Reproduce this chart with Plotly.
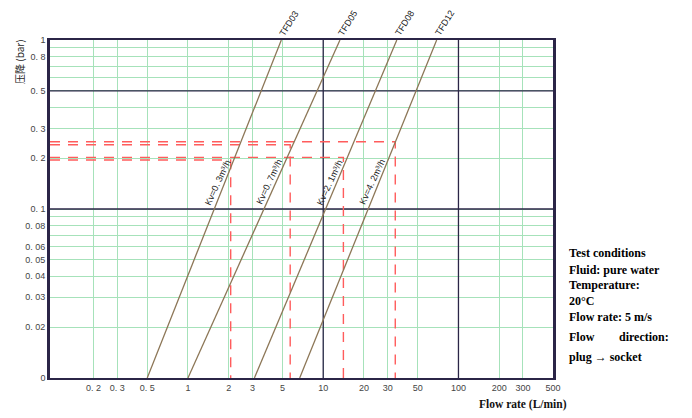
import numpy as np
import plotly.graph_objects as go

# ---------------- data ----------------
flow_ticks = [0.2, 0.3, 0.5, 1, 2, 3, 5, 10, 20, 30, 50, 100, 200, 300, 500]
flow_ticktext = ["0. 2", "0. 3", "0. 5", "1", "2", "3", "5", "10", "20", "30", "50", "100", "200", "300", "500"]
dp_ticks = [0.01, 0.02, 0.03, 0.04, 0.05, 0.06, 0.07, 0.08, 0.09, 0.1,
            0.2, 0.3, 0.4, 0.5, 0.6, 0.7, 0.8, 0.9, 1]
dp_ticktext = ["0", "0. 02", "0. 03", "0. 04", "0. 05", "0. 06", "", "0. 08", "", "0. 1",
               "0. 2", "0. 3", "", "0. 5", "", "", "0. 8", "", "1"]
dark_dp_lines = [0.1, 0.5]
dark_flow_lines = [10, 100]

series = ["TFD03", "TFD05", "TFD08", "TFD12"]
kv_text = ["Kv=0. 3m³/h", "Kv=0. 7m³/h", "Kv=2. 1m³/h", "Kv=4. 2m³/h"]
dp_min = 0.01
dp_max = 1.0
flow_at_dp_min = [0.5, 1.0, 3.1, 6.7]     # L/min at 0.01 bar
flow_at_dp_max = [4.9, 13.3, 35.0, 69.0]  # L/min at 1 bar
marker_dp = [0.195, 0.24, 0.202, 0.25]    # red guide levels (bar)
marker_flow = [2.07, 5.7, 14.1, 34.1]     # red guide flows (L/min)

# ---------------- layout constants ----------------
X_RANGE = [-1.02, np.log10(500)]
Y_RANGE = [-2.0005, 0.0005]
GREEN = "#a6e2ba"
NAVY = "#2b2547"
BROWN = "#8c7656"
RED = "#ff5c5c"
label_dp = 0.1445

fig = go.Figure()

xmin = 10 ** X_RANGE[0]
xmax = 10 ** X_RANGE[1]
for v in dark_dp_lines:
    fig.add_trace(go.Scatter(x=[xmin, xmax], y=[v, v], mode="lines",
                             line=dict(color=NAVY, width=1.3), hoverinfo="skip", showlegend=False))
for v in dark_flow_lines:
    fig.add_trace(go.Scatter(x=[v, v], y=[dp_min, dp_max], mode="lines",
                             line=dict(color=NAVY, width=1.3), hoverinfo="skip", showlegend=False))

# red guide lines
for q, p in zip(marker_flow, marker_dp):
    fig.add_trace(go.Scatter(x=[xmin, q, q], y=[p, p, dp_min], mode="lines",
                             line=dict(color=RED, width=1.4, dash="10px,8px"),
                             hoverinfo="skip", showlegend=False))

# characteristic lines
for name, q0, q1 in zip(series, flow_at_dp_min, flow_at_dp_max):
    fig.add_trace(go.Scatter(x=[q0, q1], y=[dp_min, dp_max], mode="lines", name=name,
                             line=dict(color=BROWN, width=1.3), showlegend=False))

annotations = []
for name, q0, q1, kt in zip(series, flow_at_dp_min, flow_at_dp_max, kv_text):
    annotations.append(dict(x=np.log10(q1), y=1, xref="x", yref="paper", text=name,
                            showarrow=False, textangle=-58, xanchor="center", yanchor="middle",
                            xshift=8, yshift=17,
                            font=dict(family="Liberation Sans", size=9, color="#222")))
    t = (np.log10(label_dp) - np.log10(dp_min)) / (np.log10(dp_max) - np.log10(dp_min))
    lx = np.log10(q0) + t * (np.log10(q1) - np.log10(q0))
    annotations.append(dict(x=lx, y=np.log10(label_dp), xref="x", yref="y", text=kt,
                            showarrow=False, textangle=-65, xanchor="center", yanchor="middle",
                            xshift=-7,
                            font=dict(family="Liberation Sans", size=9, color="#222")))

# y title
annotations.append(dict(x=0, y=0.935, xref="paper", yref="paper", text="压降 (bar)",
                        showarrow=False, textangle=-90, xshift=-30,
                        xanchor="center", yanchor="middle",
                        font=dict(family="Noto Sans CJK SC", size=10, color="#222")))
# x title
annotations.append(dict(x=(523 - 50) / 503, y=(378 - 404) / 338, xref="paper", yref="paper",
                        text="<b>Flow rate (L/min)</b>", showarrow=False,
                        xanchor="center", yanchor="middle",
                        font=dict(family="Liberation Serif", size=11.5, color="#111")))

# test conditions
cond_lines = ["Test conditions", "Fluid: pure water", "Temperature:", "20°C", "Flow rate: 5 m/s"]
cond_y = [253, 269.5, 285, 300.5, 316.5]
for txt, py in zip(cond_lines, cond_y):
    annotations.append(dict(x=(567 - 50) / 503, y=(378 - py) / 338, xref="paper", yref="paper",
                            text="<b>" + txt + "</b>", showarrow=False, xanchor="left", yanchor="middle",
                            font=dict(family="Liberation Serif", size=12, color="#000")))
annotations.append(dict(x=(567 - 50) / 503, y=(378 - 336.5) / 338, xref="paper", yref="paper",
                        text="<b>Flow</b>", showarrow=False, xanchor="left", yanchor="middle",
                        font=dict(family="Liberation Serif", size=12, color="#000")))
annotations.append(dict(x=(671 - 50) / 503, y=(378 - 336.5) / 338, xref="paper", yref="paper",
                        text="<b>direction:</b>", showarrow=False, xanchor="right", yanchor="middle",
                        font=dict(family="Liberation Serif", size=12, color="#000")))
annotations.append(dict(x=(567 - 50) / 503, y=(378 - 356.5) / 338, xref="paper", yref="paper",
                        text="<b>plug → socket</b>", showarrow=False, xanchor="left", yanchor="middle",
                        font=dict(family="Liberation Serif", size=12, color="#000")))

fig.update_layout(
    width=692, height=418,
    margin=dict(l=50, r=139, t=40, b=40),
    paper_bgcolor="white", plot_bgcolor="white",
    showlegend=False,
    annotations=annotations,
    xaxis=dict(type="log", range=X_RANGE, tickmode="array", tickvals=flow_ticks,
               ticktext=flow_ticktext, showgrid=True, gridcolor=GREEN, gridwidth=1,
               showline=True, mirror=True, linecolor=NAVY, linewidth=2.2, ticks="",
               zeroline=False, tickfont=dict(family="Liberation Sans", size=9, color="#444")),
    yaxis=dict(type="log", range=Y_RANGE, tickmode="array", tickvals=dp_ticks,
               ticktext=dp_ticktext, showgrid=True, gridcolor=GREEN, gridwidth=1,
               showline=True, mirror=True, linecolor=NAVY, linewidth=2.6, ticks="",
               zeroline=False, tickfont=dict(family="Liberation Sans", size=9, color="#444")),
)

fig.write_html("out.html", config={"displayModeBar": False},
               post_script="document.body.style.margin='0';document.body.style.padding='0';")
